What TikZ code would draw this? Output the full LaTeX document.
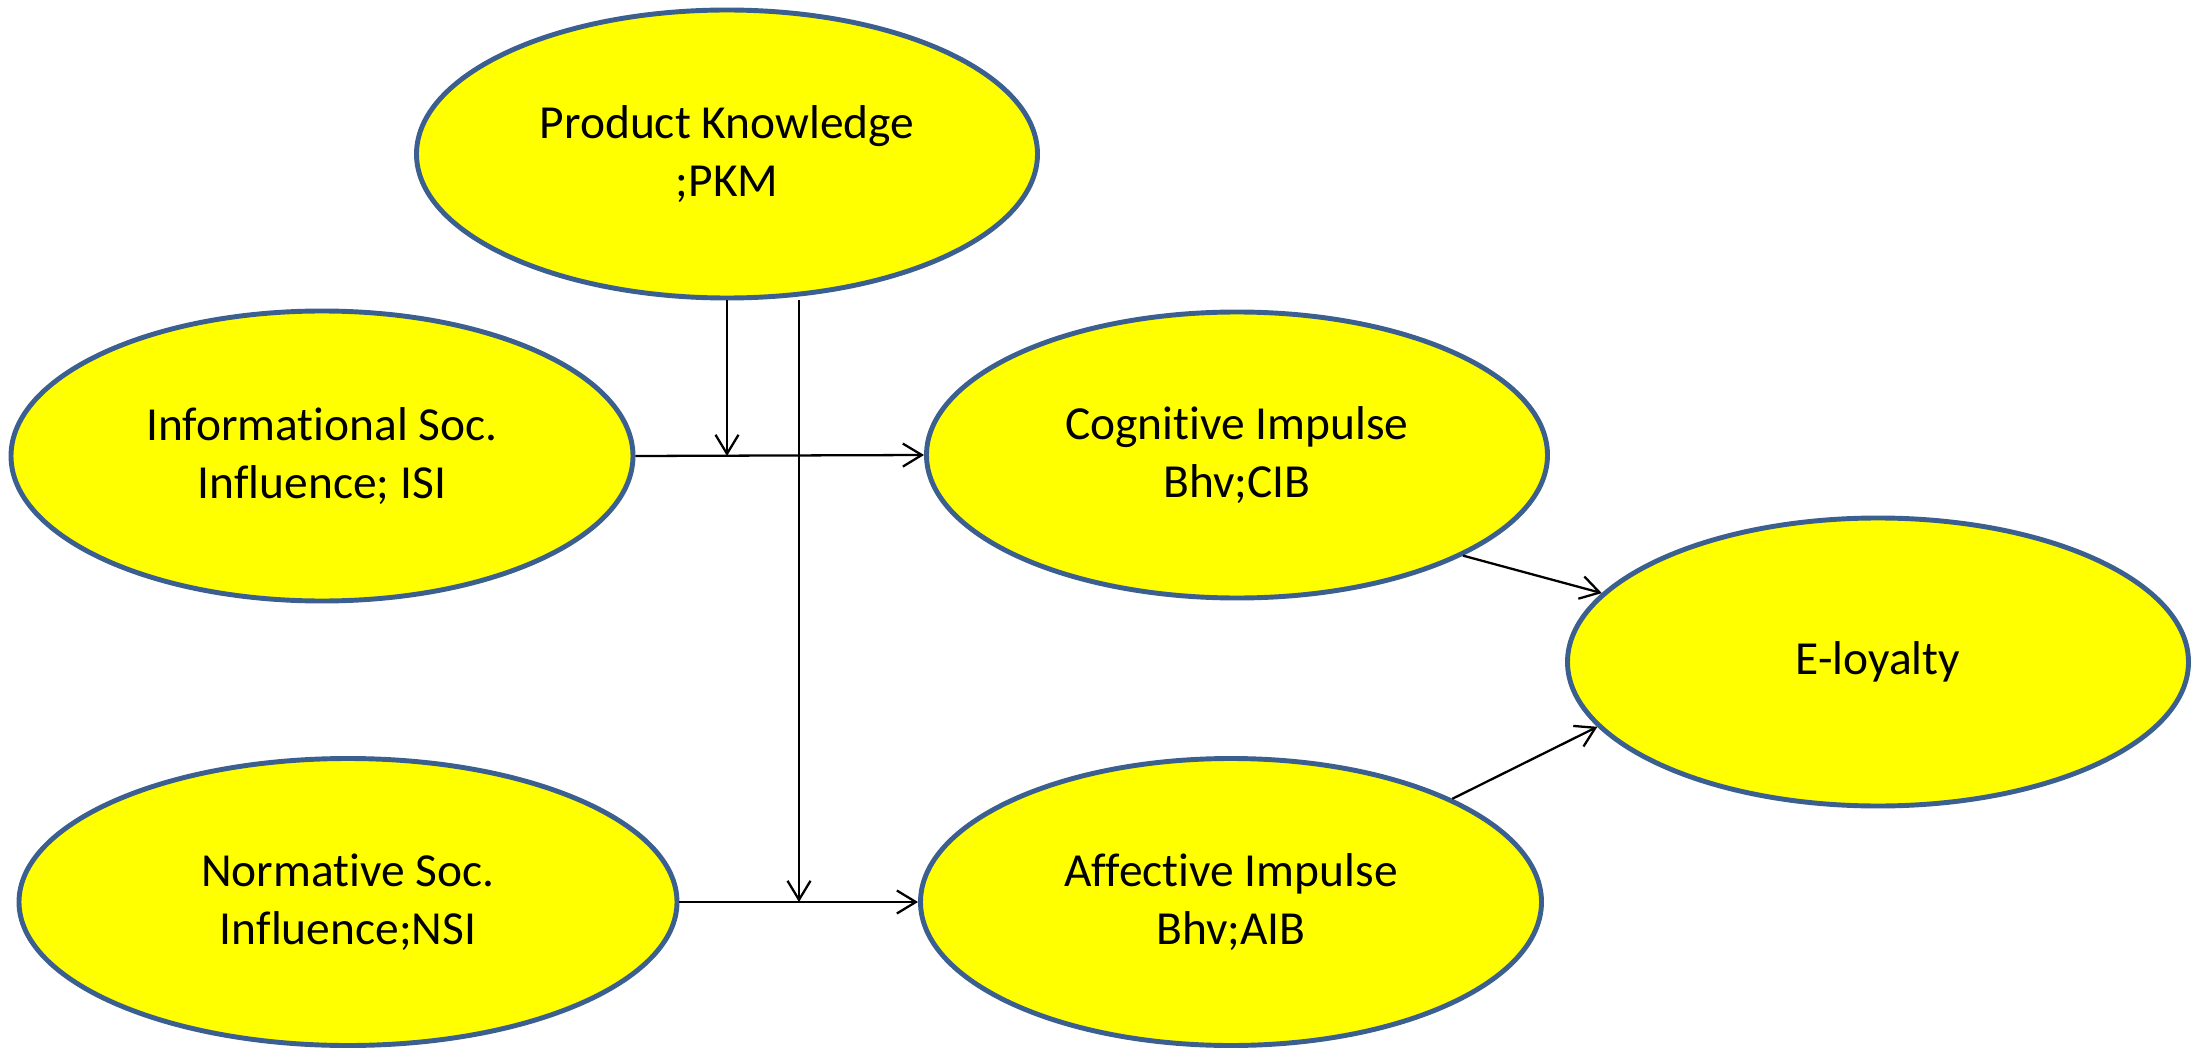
\documentclass[tikz,border=0pt]{standalone}
\usepackage{fontspec}
\setmainfont[Ligatures=NoCommon]{Carlito}
\usetikzlibrary{shapes.geometric,arrows.meta}
\definecolor{rimblue}{HTML}{3B5F8F}
\definecolor{bubble}{HTML}{FFFF00}
\tikzset{
  construct/.style={ellipse, draw=rimblue, fill=bubble, line width=1.4pt,
    inner sep=0pt, align=center, text=black,
    font=\fontsize{13.5}{16.6}\selectfont},
  link/.style={draw=black, line width=0.65pt,
    -{Straight Barb[length=1.9mm,width=2.3mm,line width=0.65pt]}}
}
\begin{document}
\begin{tikzpicture}
\useasboundingbox (0,0) rectangle (22.02,-10.51);
% constructs
\node[construct, minimum width=6.21cm, minimum height=2.88cm] (pkm) at (7.27,-1.54) {Product Knowledge\\;PKM};
\node[construct, minimum width=6.22cm, minimum height=2.90cm] (isi) at (3.22,-4.56) {Informational Soc.\\Influence; ISI};
\node[construct, minimum width=6.58cm, minimum height=2.87cm] (nsi) at (3.48,-9.02) {Normative Soc.\\Influence;NSI};
\node[construct, minimum width=6.21cm, minimum height=2.86cm] (cib) at (12.37,-4.55) {Cognitive Impulse\\Bhv;CIB};
\node[construct, minimum width=6.21cm, minimum height=2.87cm] (aib) at (12.31,-9.02) {Affective Impulse\\Bhv;AIB};
\node[construct, minimum width=6.21cm, minimum height=2.88cm] (eloy) at (18.78,-6.62) {E-loyalty};
% junction of the moderating path on the lower link
\coordinate (j1) at (7.99,-9.02);
% direct effects
\draw[link] (isi.east) -- (cib.west);
\draw[link] (nsi.east) -- (aib.west);
\draw[link] (cib.-24.5) -- (eloy.166.3);
\draw[link] (aib.25.1) -- (eloy.193.7);
% moderating effects of product knowledge
\draw[link] (pkm.south) -- (pkm.south |- isi.east);
\draw[link] (pkm.south -| j1) -- (j1);
\end{tikzpicture}
\end{document}
